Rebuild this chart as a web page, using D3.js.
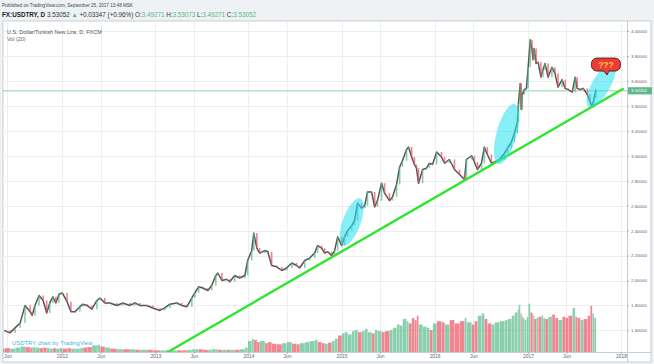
<!DOCTYPE html>
<html><head><meta charset="utf-8">
<script src="https://cdn.jsdelivr.net/npm/d3@7"></script>
<style>
html,body{margin:0;padding:0;background:#eef2f5;}
svg{display:block;font-family:"Liberation Sans",Arial,sans-serif;}
</style></head><body>
<svg id="c" width="654" height="364"></svg>
<script>
// ---------- DATA ----------
const dates = [
"2011-05-19","2011-06-11","2011-07-01","2011-07-21","2011-08-09","2011-08-29","2011-09-06","2011-09-17","2011-10-03","2011-10-19",
"2011-11-02","2011-11-14","2011-11-26","2011-12-08","2011-12-20","2012-01-02","2012-01-21","2012-02-05","2012-02-21","2012-03-11",
"2012-03-23","2012-04-08","2012-04-27","2012-05-17","2012-05-29","2012-06-17","2012-07-07","2012-08-03","2012-08-27","2012-09-23",
"2012-10-13","2012-11-01","2012-11-29","2012-12-22","2013-01-19","2013-02-07","2013-02-27","2013-03-26","2013-04-15","2013-05-05",
"2013-05-24","2013-06-05","2013-06-20","2013-07-06","2013-07-26","2013-08-10","2013-08-26","2013-09-03","2013-09-19","2013-10-08",
"2013-10-20","2013-11-08","2013-11-28","2013-12-18","2013-12-29","2014-01-14","2014-01-22","2014-02-03","2014-02-14","2014-03-06",
"2014-03-18","2014-04-02","2014-04-22","2014-05-12","2014-05-31","2014-06-20","2014-07-09","2014-07-21","2014-08-10","2014-08-29",
"2014-09-18","2014-09-29","2014-10-15","2014-10-27","2014-11-08","2014-11-23","2014-12-05","2014-12-17","2015-01-02","2015-01-13",
"2015-01-25","2015-02-10","2015-02-21","2015-03-05","2015-03-21","2015-04-02","2015-04-13","2015-04-29","2015-05-11","2015-05-22",
"2015-06-07","2015-06-19","2015-07-08","2015-07-20","2015-08-05","2015-08-17","2015-08-28","2015-09-13","2015-09-21","2015-10-03",
"2015-10-14","2015-10-22","2015-10-30","2015-11-15","2015-11-30","2015-12-12","2015-12-24","2016-01-09","2016-01-28","2016-02-09",
"2016-02-28","2016-03-19","2016-04-08","2016-04-27","2016-05-05","2016-05-25","2016-06-05","2016-06-17","2016-07-03","2016-07-14",
"2016-07-26","2016-08-11","2016-08-23","2016-09-11","2016-10-01","2016-10-13","2016-10-28","2016-11-09","2016-11-21","2016-11-25",
"2016-12-02","2016-12-06","2016-12-10","2016-12-18","2016-12-26","2017-01-02","2017-01-10","2017-01-17","2017-01-21","2017-01-25",
"2017-02-02","2017-02-10","2017-02-21","2017-03-01","2017-03-09","2017-03-21","2017-04-05","2017-04-17","2017-04-29","2017-05-15",
"2017-05-27","2017-06-08","2017-06-24","2017-07-05","2017-07-13","2017-07-25","2017-08-06","2017-08-22","2017-09-02","2017-09-10",
"2017-09-17","2017-09-25"];
const closes = [
1.60,1.58,1.62,1.66,1.80,1.75,1.72,1.80,1.88,1.84,
1.74,1.82,1.87,1.82,1.89,1.90,1.83,1.75,1.75,1.79,
1.81,1.80,1.77,1.84,1.86,1.82,1.82,1.80,1.82,1.80,
1.82,1.80,1.80,1.78,1.76,1.78,1.81,1.82,1.80,1.79,
1.86,1.90,1.95,1.94,1.92,1.96,2.04,2.06,2.00,2.01,
1.99,2.04,2.02,2.04,2.16,2.24,2.38,2.26,2.22,2.24,
2.23,2.12,2.11,2.08,2.10,2.14,2.12,2.10,2.16,2.18,
2.22,2.28,2.26,2.22,2.23,2.20,2.24,2.35,2.28,2.35,
2.40,2.44,2.48,2.62,2.58,2.60,2.71,2.71,2.59,2.64,
2.78,2.70,2.64,2.67,2.77,2.91,2.96,3.05,3.07,2.99,
2.93,2.90,2.78,2.89,2.90,2.94,2.93,3.03,2.99,2.94,
2.97,2.89,2.85,2.81,2.97,3.00,2.95,2.89,2.94,3.07,
3.01,2.94,2.95,2.97,3.02,3.06,3.11,3.18,3.27,3.42,
3.58,3.37,3.49,3.53,3.54,3.71,3.93,3.85,3.77,3.86,
3.74,3.75,3.63,3.69,3.74,3.63,3.71,3.66,3.55,3.61,
3.54,3.53,3.51,3.63,3.54,3.53,3.54,3.49,3.43,3.39,
3.46,3.53052];
const volumes = [
6,7,6,8,10,9,8,9,8,7,
8,7,6,7,6,7,6,7,6,6,
7,8,9,12,13,10,8,6,5,5,
5,4,4,4,3,3,3,3,3,3,
4,5,5,5,4,4,5,5,4,4,
4,4,4,5,8,20,24,22,18,20,
16,18,15,14,16,18,15,14,16,18,
20,22,18,16,15,17,20,24,30,34,
36,32,38,40,36,38,42,36,34,40,
38,36,38,40,44,50,48,60,56,52,
62,58,66,50,46,44,40,52,56,54,
50,58,52,56,62,54,50,56,66,70,
60,52,50,54,56,58,60,66,72,78,
86,70,66,62,58,64,88,72,70,66,
60,62,64,66,62,60,64,68,62,58,
64,62,66,80,64,62,58,60,66,84,
70,62];
const priceTicks = [4.0,3.8,3.6,3.4,3.2,3.0,2.8,2.6,2.4,2.2,2.0,1.8,1.6];
const timeTicks = ["2011-06-01","2012-01-01","2012-06-01","2013-01-01","2013-06-01","2014-01-01","2014-06-01",
                   "2015-01-01","2015-06-01","2016-01-01","2016-06-01","2017-01-01","2017-06-01","2018-01-01"];
const timeLabels = ["Jun","2012","Jun","2013","Jun","2014","Jun","2015","Jun","2016","Jun","2017","Jun","2018"];
const lastPrice = 3.52052;
const trendDates = ["2013-02-19","2018-01-08"];
const trendPrices = [1.427,3.535];
const ellipseDates = ["2015-02-10","2016-10-09","2017-10-15"];
const ellipsePrices = [2.469,3.174,3.567];
const bubbleDate = "2017-11-03";
const bubblePrice = 3.731;

// ---------- LAYOUT ----------
const P = {l:3, r:627, t:21, b:352};
const parse = d3.timeParse("%Y-%m-%d");
const svg = d3.select("#c");
const x = d3.scaleTime().domain([parse("2012-01-01"), parse("2018-01-01")]).range([62, 621]);
const y = d3.scaleLinear().domain([1.6, 4.0]).range([330.4, 31]);
const v = d3.scaleLinear().domain([0, 100]).range([P.b, P.b - 55]);
const up = "#53b987", dn = "#eb4d5c";

// frame
svg.append("rect").attr("x",P.l).attr("y",P.t).attr("width",651-P.l).attr("height",362-P.t)
  .attr("fill","#fff").attr("stroke","#c9cdd2").attr("stroke-width",1);

svg.append("defs").append("clipPath").attr("id","clip")
  .append("rect").attr("x",P.l).attr("y",P.t).attr("width",P.r-P.l).attr("height",P.b-P.t);

// grid
const grid = svg.append("g").attr("stroke","#eceef0").attr("stroke-width",1);
priceTicks.forEach(p => grid.append("line").attr("x1",P.l).attr("x2",P.r)
  .attr("y1",Math.round(y(p))+0.5).attr("y2",Math.round(y(p))+0.5));
timeTicks.forEach(t => grid.append("line").attr("y1",P.t).attr("y2",P.b)
  .attr("x1",Math.round(x(parse(t)))+0.5).attr("x2",Math.round(x(parse(t)))+0.5));

const plot = svg.append("g").attr("clip-path","url(#clip)");
const D = dates.map(parse);

// volume bars
plot.append("g").selectAll("rect").data(volumes).join("rect")
  .attr("x",(d,i)=> i===0 ? x(D[0])-2 : x(D[i-1])+0.3)
  .attr("width",(d,i)=> i===0 ? 2 : Math.max(1, x(D[i])-x(D[i-1])-0.3))
  .attr("y",d=>v(d)).attr("height",d=>P.b-v(d))
  .attr("fill",(d,i)=> (i===0 || closes[i]>=closes[i-1]) ? up : dn)
  .attr("fill-opacity",0.68);

// horizontal last price line
plot.append("line").attr("x1",P.l).attr("x2",P.r)
  .attr("y1",y(lastPrice)).attr("y2",y(lastPrice))
  .attr("stroke","#8fd0ae").attr("stroke-width",1);

// price line
plot.append("path").datum(closes)
  .attr("d", d3.line().x((d,i)=>x(D[i])).y(d=>y(d)))
  .attr("fill","none").attr("stroke","#555").attr("stroke-width",1.5).attr("stroke-linejoin","round");
// candle bodies
plot.append("g").selectAll("rect").data(closes.slice(1)).join("rect")
  .attr("x",(d,i)=>x(D[i+1])-0.8).attr("width",1.6)
  .attr("y",(d,i)=>y(Math.max(d,closes[i])))
  .attr("height",(d,i)=>Math.max(0.8, Math.abs(y(d)-y(closes[i]))))
  .attr("fill",(d,i)=> d>=closes[i] ? up : dn).attr("fill-opacity",0.7);

// trend line
plot.append("line")
  .attr("x1",x(parse(trendDates[0]))).attr("y1",y(trendPrices[0]))
  .attr("x2",x(parse(trendDates[1]))).attr("y2",y(trendPrices[1]))
  .attr("stroke","#2ee62e").attr("stroke-width",2.4).attr("stroke-linecap","round");

// ellipses
const eR = [[9,25,20],[10,31,15],[9,25,30]];
ellipseDates.forEach((d,i)=>{
  const cx = x(parse(d)), cy = y(ellipsePrices[i]);
  svg.append("ellipse").attr("cx",0).attr("cy",0).attr("rx",eR[i][0]).attr("ry",eR[i][1])
    .attr("transform",`translate(${cx},${cy}) rotate(${eR[i][2]})`)
    .attr("fill","#22e2f0").attr("fill-opacity",0.55);
});

// bubble
{
  const cx = x(parse(bubbleDate)), cy = y(bubblePrice);
  const g = svg.append("g").attr("transform",`translate(${cx},${cy})`);
  const w = 29, h = 13, r = 5.5;
  const pth = `M${-w/2+r},${-h/2} H${w/2-r} A${r},${r} 0 0 1 ${w/2},${-h/2+r} V${h/2-r} A${r},${r} 0 0 1 ${w/2-r},${h/2}
    H3 L1,${h/2+4} L-2,${h/2} H${-w/2+r} A${r},${r} 0 0 1 ${-w/2},${h/2-r} V${-h/2+r} A${r},${r} 0 0 1 ${-w/2+r},${-h/2} Z`;
  g.append("path").attr("d",pth).attr("fill","#ef3b36").attr("stroke","#3a2020").attr("stroke-width",0.9);
  g.append("text").attr("x",0).attr("y",3).attr("text-anchor","middle")
    .attr("font-size",8.5).attr("font-weight","bold").attr("fill","#ffc940").text("???");
}

// axes separators
svg.append("line").attr("x1",P.r+0.5).attr("x2",P.r+0.5).attr("y1",P.t).attr("y2",362).attr("stroke","#c9cdd2");
svg.append("line").attr("x1",P.l).attr("x2",651).attr("y1",P.b+0.5).attr("y2",P.b+0.5).attr("stroke","#c9cdd2");

// price axis
const ya = svg.append("g").attr("transform",`translate(${P.r},0)`)
  .call(d3.axisRight(y).tickValues(priceTicks).tickFormat(d3.format(".5f")).tickSize(2).tickPadding(2));
ya.select(".domain").remove();
ya.selectAll("line").attr("stroke","#b0b4b8");
ya.selectAll("text").attr("font-size",4.4).attr("fill","#5f6368").attr("font-family","Liberation Sans, Arial");

// time axis
const xa = svg.append("g").attr("transform",`translate(0,${P.b})`)
  .call(d3.axisBottom(x).tickValues(timeTicks.map(parse)).tickFormat((d,i)=>timeLabels[i]).tickSize(2).tickPadding(1));
xa.select(".domain").remove();
xa.selectAll("line").attr("stroke","#b0b4b8");
xa.selectAll("text").attr("font-size",4.9).attr("fill","#5f6368").attr("font-family","Liberation Sans, Arial");

// last price label
svg.append("rect").attr("x",P.r+1).attr("y",y(lastPrice)-3.6).attr("width",24).attr("height",7.2)
  .attr("fill","#5fb88a");
svg.append("text").attr("x",P.r+4).attr("y",y(lastPrice)+1.6).attr("font-size",4.4).attr("fill","#fff")
  .text(d3.format(".5f")(lastPrice));

// header texts
svg.append("text").attr("x",2).attr("y",7).attr("font-size",4.6).attr("fill","#444")
  .text("Published on TradingView.com, September 25, 2017 13:48 MSK");
const t2 = svg.append("text").attr("x",2).attr("y",16.8).attr("font-size",6.3).attr("fill","#333");
[["FX:USDTRY, D ","#222","bold"],["3.53052 ","#333"],["▲","#53b987"],[" +0.03347 (+0.96%) ","#333"],
 ["O:","#333"],["3.49271","#53b987"],[" H:","#333"],["3.53073","#53b987"],[" L:","#333"],["3.49271","#53b987"],
 [" C:","#333"],["3.53052","#53b987"]].forEach(s=>{
  const ts = t2.append("tspan").attr("fill",s[1]).text(s[0]);
  if (s[2]) ts.attr("font-weight",s[2]);
});

svg.append("text").attr("x",7).attr("y",34).attr("font-size",5.5).attr("fill","#555")
  .text("U.S. Dollar/Turkish New Lira, D, FXCM");
svg.append("text").attr("x",7).attr("y",40.5).attr("font-size",5.4).attr("fill","#666")
  .text("Vol (20)");
svg.append("text").attr("x",12).attr("y",344.5).attr("font-size",5.9).attr("fill","#3fb4e6")
  .text("USDTRY chart by TradingView");
</script>
</body></html>
